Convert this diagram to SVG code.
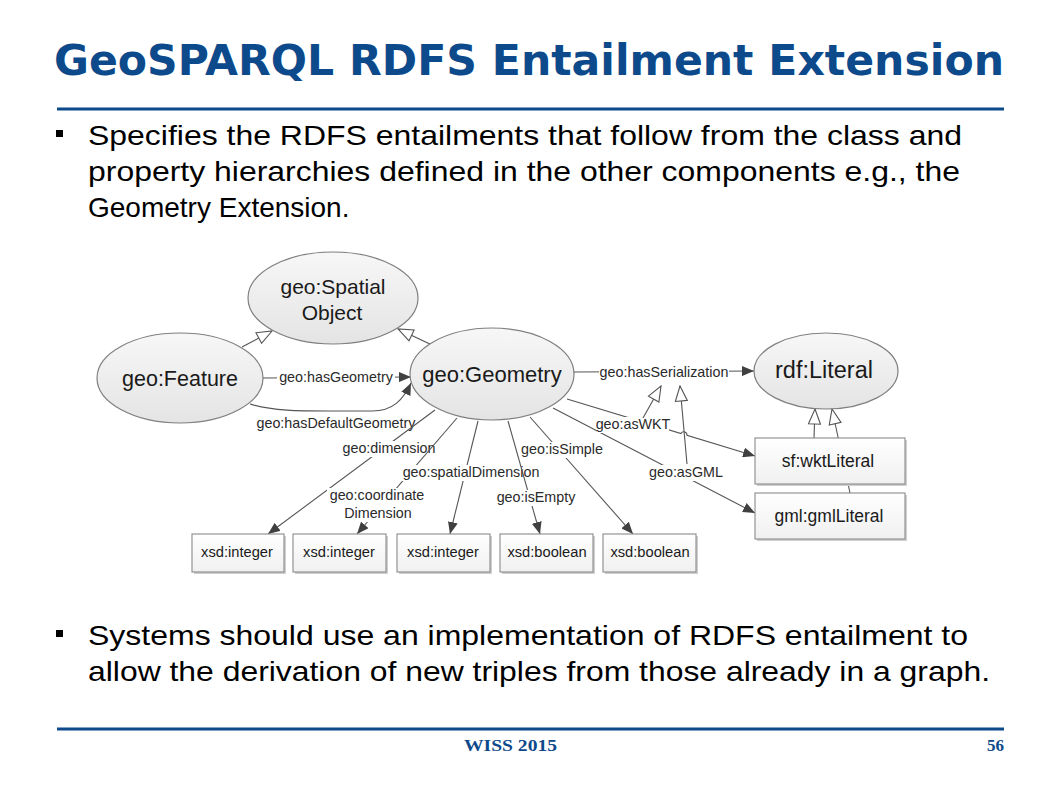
<svg xmlns="http://www.w3.org/2000/svg" width="1058" height="793" viewBox="0 0 1058 793">
<style>
.title{font-family:"DejaVu Sans",Verdana,sans-serif;font-weight:bold;font-size:42px;fill:#0d4a8b}
.body{font-family:"Liberation Sans",Arial,sans-serif;font-size:28px;fill:#000}
.foot{font-family:"Liberation Serif","DejaVu Serif",serif;font-weight:bold;font-size:17px;fill:#0d4a8b}
.rule{stroke:#0d4a8b;stroke-width:3}
.el{fill:url(#eg);stroke:#7f7f7f;stroke-width:1.2}
.bx{fill:url(#rg);stroke:#8a8a8a;stroke-width:1.1}
.sh{fill:#cfcfcf}
.nt{font-family:"Liberation Sans",Arial,sans-serif;fill:#1a1a1a;text-anchor:middle}
.ln{fill:none;stroke:#555;stroke-width:1.1}
.lbl{font-family:"Liberation Sans",Arial,sans-serif;font-size:14.3px;fill:#2a2a2a;text-anchor:middle}
.bg{fill:#fff}
</style>
<defs>
<linearGradient id="eg" x1="0" y1="0" x2="0" y2="1">
<stop offset="0" stop-color="#f7f7f7"/><stop offset="1" stop-color="#e4e4e4"/>
</linearGradient>
<linearGradient id="rg" x1="0" y1="0" x2="0" y2="1">
<stop offset="0" stop-color="#ffffff"/><stop offset="1" stop-color="#f0f0f0"/>
</linearGradient>
<marker id="arr" viewBox="0 0 12 10" refX="12" refY="5" markerWidth="12" markerHeight="10" markerUnits="userSpaceOnUse" orient="auto">
<path d="M0,0 L12,5 L0,10 z" fill="#404040"/>
</marker>
<marker id="tri" viewBox="0 0 17 14" refX="16" refY="7" markerWidth="17" markerHeight="14" markerUnits="userSpaceOnUse" orient="auto">
<path d="M1,1 L16,7 L1,13 z" fill="#fff" stroke="#555" stroke-width="1.1"/>
</marker>
</defs>
<rect width="1058" height="793" fill="#fff"/>

<g id="slide">
<text class="title" x="54" y="75" textLength="950" lengthAdjust="spacingAndGlyphs">GeoSPARQL RDFS Entailment Extension</text>
<line class="rule" x1="57" y1="109" x2="1004" y2="109"/>
<rect x="56" y="130" width="7" height="7" fill="#000"/>
<text class="body" x="88" y="145" textLength="874" lengthAdjust="spacingAndGlyphs">Specifies the RDFS entailments that follow from the class and</text>
<text class="body" x="88" y="181" textLength="872" lengthAdjust="spacingAndGlyphs">property hierarchies defined in the other components e.g., the</text>
<text class="body" x="88" y="217">Geometry Extension.</text>
<rect x="56" y="630" width="7" height="7" fill="#000"/>
<text class="body" x="88" y="645" textLength="880" lengthAdjust="spacingAndGlyphs">Systems should use an implementation of RDFS entailment to</text>
<text class="body" x="88" y="681" textLength="902" lengthAdjust="spacingAndGlyphs">allow the derivation of new triples from those already in a graph.</text>
<line class="rule" x1="57" y1="729" x2="1004" y2="729"/>
<text class="foot" x="464" y="751" textLength="93" lengthAdjust="spacingAndGlyphs">WISS 2015</text>
<text class="foot" x="1004" y="751" text-anchor="end">56</text>
</g>

<g id="connectors">
<path class="ln" d="M242,347 L272,331" marker-end="url(#tri)"/>
<path class="ln" d="M432,345 L398,329" marker-end="url(#tri)"/>
<path class="ln" d="M263,378 L411,377" marker-end="url(#arr)"/>
<rect class="bg" x="277" y="369" width="118" height="16"/>
<text class="lbl" x="336" y="382">geo:hasGeometry</text>
<path class="ln" d="M250,404 C272,411 300,411 330,411 L372,411 C393,411 403,400 411,383" marker-end="url(#arr)"/>
<text class="lbl" x="336" y="428">geo:hasDefaultGeometry</text>
<path class="ln" d="M574,372 L754,371" marker-end="url(#arr)"/>
<rect class="bg" x="599" y="364" width="130" height="17"/>
<text class="lbl" x="664" y="377">geo:hasSerialization</text>
<path class="ln" d="M553,408 L755,513" marker-end="url(#arr)"/>
<rect class="bg" x="649" y="465" width="74" height="16"/>
<text class="lbl" x="686" y="477">geo:asGML</text>
<path class="ln" d="M687,464 L680,386" marker-end="url(#tri)"/>
<path class="ln" d="M567,399 L681,433.5 A3.2,3.2 0 0 1 687,435.3 L755,456" marker-end="url(#arr)"/>
<rect class="bg" x="597" y="417" width="72" height="16"/>
<text class="lbl" x="633" y="429">geo:asWKT</text>
<path class="ln" d="M643,418 L661,386" marker-end="url(#tri)"/>
<path class="ln" d="M814,438 L815,409" marker-end="url(#tri)"/>
<path class="ln" d="M850,493 L832,409" marker-end="url(#tri)"/>
<path class="ln" d="M435,410 L268,534" marker-end="url(#arr)"/>
<rect class="bg" x="341" y="441" width="97" height="16"/>
<text class="lbl" x="389" y="453">geo:dimension</text>
<path class="ln" d="M457,418 L357,534" marker-end="url(#arr)"/>
<rect class="bg" x="327" y="488" width="101" height="34"/>
<text class="lbl" x="377" y="500">geo:coordinate</text>
<text class="lbl" x="378" y="518">Dimension</text>
<path class="ln" d="M478,421 L450,534" marker-end="url(#arr)"/>
<rect class="bg" x="402" y="465" width="139" height="16"/>
<text class="lbl" x="471" y="477">geo:spatialDimension</text>
<path class="ln" d="M508,421 L540,534" marker-end="url(#arr)"/>
<rect class="bg" x="496" y="490" width="80" height="16"/>
<text class="lbl" x="536" y="502">geo:isEmpty</text>
<path class="ln" d="M530,417 L633,534" marker-end="url(#arr)"/>
<rect class="bg" x="521" y="442" width="83" height="16"/>
<text class="lbl" x="562" y="454">geo:isSimple</text>
</g>

<g id="node-spatialobject">
<ellipse class="el" cx="333" cy="298" rx="85" ry="46"/>
<text class="nt" x="333" y="294" font-size="21">geo:Spatial</text>
<text class="nt" x="332" y="320" font-size="21">Object</text>
</g>
<g id="node-feature">
<ellipse class="el" cx="180" cy="378" rx="83" ry="45"/>
<text class="nt" x="180" y="386" font-size="21.5">geo:Feature</text>
</g>
<g id="node-geometry">
<ellipse class="el" cx="492" cy="374" rx="82" ry="46"/>
<text class="nt" x="492" y="382" font-size="22">geo:Geometry</text>
</g>
<g id="node-rdfliteral">
<ellipse class="el" cx="826" cy="371" rx="72" ry="38"/>
<text class="nt" x="824" y="378" font-size="23.5">rdf:Literal</text>
</g>
<g id="node-wktliteral">
<rect class="sh" x="757" y="440" width="150" height="46"/>
<rect class="bx" x="755" y="438" width="150" height="46"/>
<text class="nt" x="828" y="467" font-size="17.5">sf:wktLiteral</text>
</g>
<g id="node-gmlliteral">
<rect class="sh" x="757" y="495" width="150" height="46"/>
<rect class="bx" x="755" y="493" width="150" height="46"/>
<text class="nt" x="829" y="522" font-size="17.5">gml:gmlLiteral</text>
</g>
<g id="node-int1">
<rect class="sh" x="194" y="536" width="92" height="38"/>
<rect class="bx" x="192" y="534" width="92" height="38"/>
<text class="nt" x="237" y="557" font-size="14.7">xsd:integer</text>
</g>
<g id="node-int2">
<rect class="sh" x="295" y="536" width="93" height="38"/>
<rect class="bx" x="293" y="534" width="93" height="38"/>
<text class="nt" x="339" y="557" font-size="14.7">xsd:integer</text>
</g>
<g id="node-int3">
<rect class="sh" x="399" y="536" width="93" height="38"/>
<rect class="bx" x="397" y="534" width="93" height="38"/>
<text class="nt" x="443" y="557" font-size="14.7">xsd:integer</text>
</g>
<g id="node-bool1">
<rect class="sh" x="502" y="536" width="93" height="38"/>
<rect class="bx" x="500" y="534" width="93" height="38"/>
<text class="nt" x="547" y="557" font-size="14.7">xsd:boolean</text>
</g>
<g id="node-bool2">
<rect class="sh" x="605" y="536" width="93" height="38"/>
<rect class="bx" x="603" y="534" width="93" height="38"/>
<text class="nt" x="650" y="557" font-size="14.7">xsd:boolean</text>
</g>
</svg>
